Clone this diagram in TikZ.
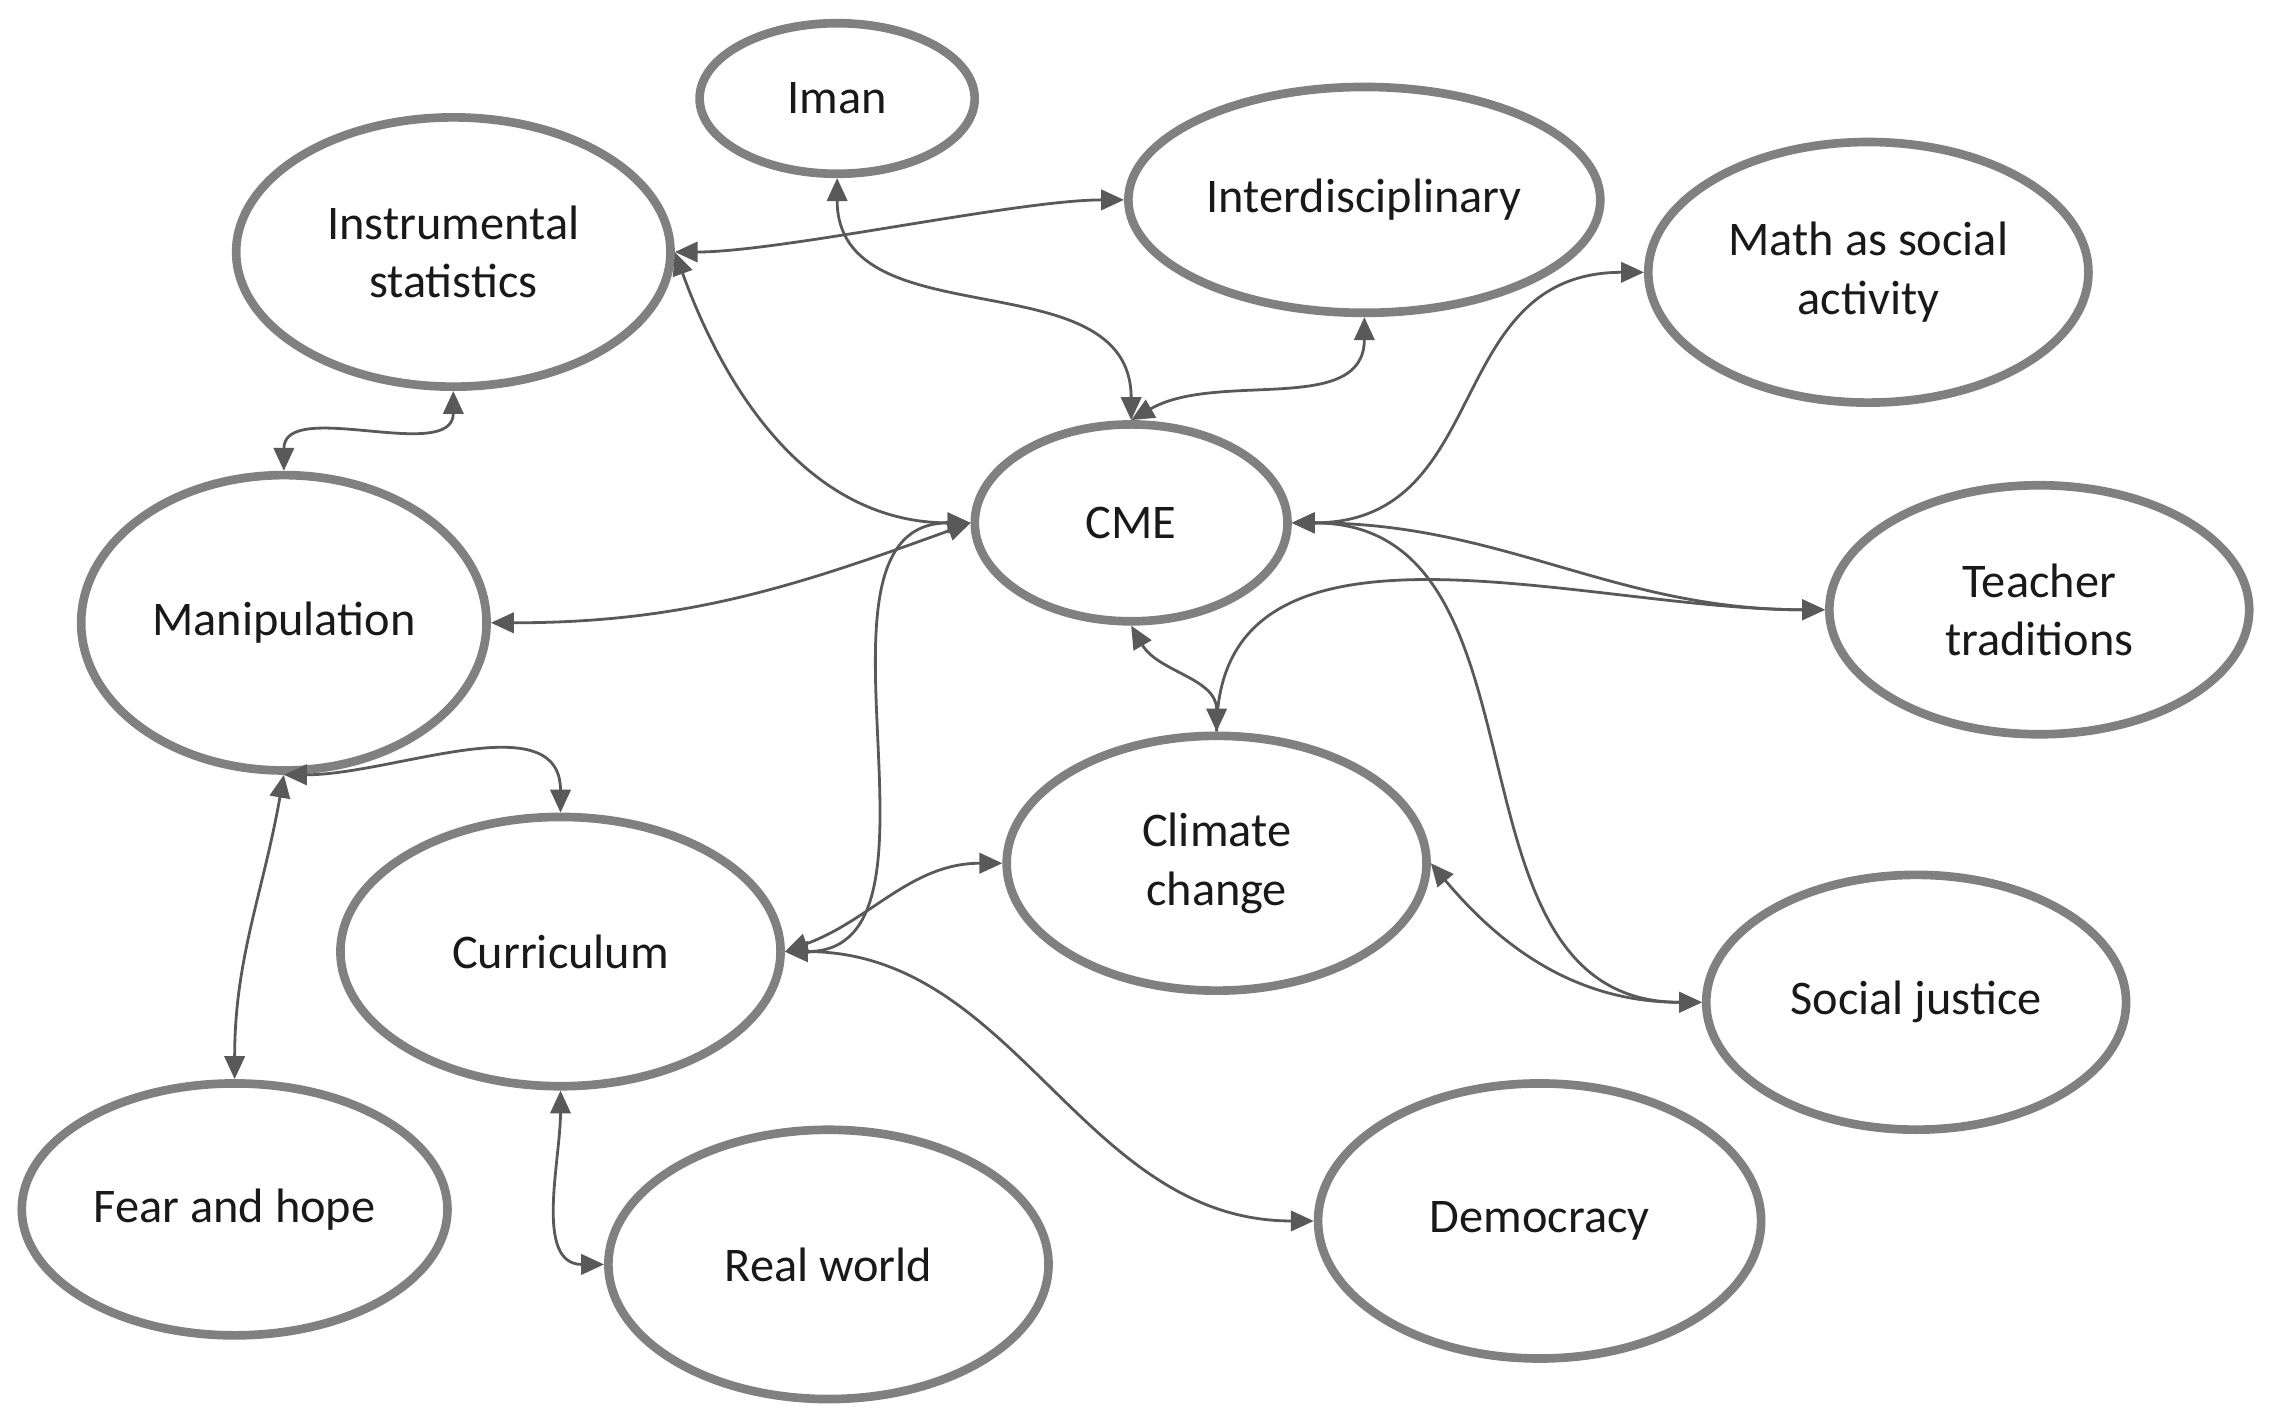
\documentclass[tikz,border=0pt]{standalone}
\usepackage{fontspec}
\setmainfont{Carlito}
\usetikzlibrary{shapes.geometric,arrows.meta}
\begin{document}
\begin{tikzpicture}[x=0.02cm,y=-0.02cm,
 el/.style={ellipse,draw=black!50,line width=3.4pt,inner sep=0pt,align=center,font=\fontsize{19}{23}\selectfont,text=black!90},
 ar/.style={draw=black!65,line width=1.1pt,{Triangle[length=9pt,width=8pt]}-{Triangle[length=9pt,width=8pt]}},
 ar1/.style={draw=black!65,line width=1.1pt,-{Triangle[length=9pt,width=8pt]}}]
\useasboundingbox (0,0) rectangle (1568,985);
\newcommand\E[6]{\node[el,minimum width=#4*0.04cm,minimum height=#5*0.04cm] (#1) at (#2,#3) {#6};}
\E{iman}{578}{68}{95}{52}{Iman}
\E{instr}{313}{174}{150}{93}{Instrumental\\statistics}
\E{inter}{942}{138}{163}{78}{Interdisciplinary}
\E{math}{1290}{188}{152}{90}{Math as social\\activity}
\E{cme}{781}{361}{108}{68}{CME}
\E{manip}{196}{430}{140}{102}{Manipulation}
\E{teach}{1408}{421}{145}{86}{Teacher\\traditions}
\E{clim}{840}{596}{145}{88}{Climate\\change}
\E{curr}{387}{657}{152}{93}{Curriculum}
\E{soc}{1323}{692}{145}{88}{Social justice}
\E{fear}{162}{835}{147}{87}{Fear and hope}
\E{real}{572}{873}{152}{93}{Real world}
\E{dem}{1063}{843}{153}{95}{Democracy}
\draw[ar] (instr.east) to[out=0,in=180,looseness=0.6] (inter.west);
\draw[ar] (instr.east) to[out=-70,in=180] (cme.west);
\draw[ar] (iman.south) to[out=-90,in=90,looseness=1.1] (cme.north);
\draw[ar] (cme.north) to[out=30,in=-90] (inter.south);
\draw[ar] (instr.south) to[out=-90,in=90] (manip.north);
\draw[ar] (manip.east) to[out=0,in=200] (cme.west);
\draw[ar] (cme.east) to[out=0,in=180,looseness=1.2] (math.west);
\draw[ar] (cme.east) to[out=0,in=180] (teach.west);
\draw[ar] (cme.east) to[out=0,in=180,looseness=1.1] (soc.west);
\draw[ar] (cme.south) to[out=-60,in=90] (clim.north);
\draw[ar1] (clim.north) to[out=90,in=180] (teach.west);
\draw[ar] (cme.west) to[out=180,in=0] (curr.east);
\draw[ar] (curr.east) to[out=20,in=180] (clim.west);
\draw[ar] (curr.east) to[out=0,in=180] (dem.west);
\draw[ar] (clim.east) to[out=-50,in=180] (soc.west);
\draw[ar] (manip.south) to[out=0,in=90] (curr.north);
\draw[ar] (manip.south) to[out=-100,in=90] (fear.north);
\draw[ar] (curr.south) to[out=-90,in=180] (real.west);
\end{tikzpicture}
\end{document}
